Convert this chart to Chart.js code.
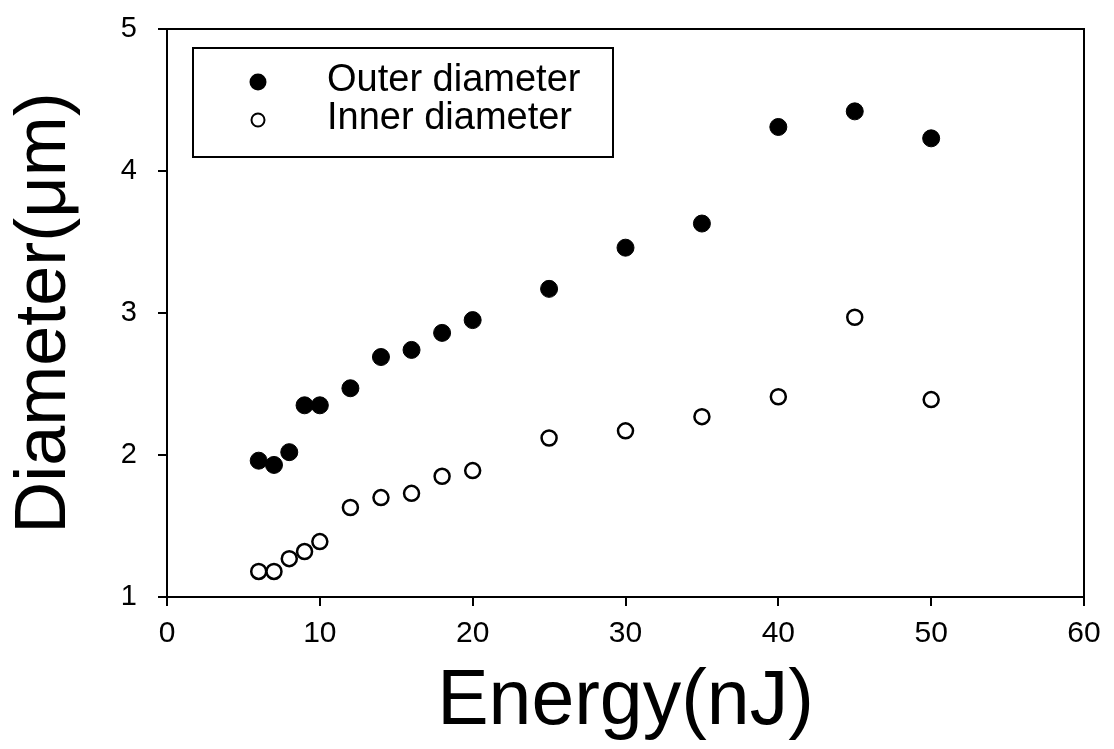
<!DOCTYPE html>
<html>
<head>
<meta charset="utf-8">
<script src="https://cdn.jsdelivr.net/npm/chart.js@4/dist/chart.umd.min.js"></script>
<style>
  html, body { margin: 0; padding: 0; background: #fff; }
  #wrap { width: 1114px; height: 749px; }
</style>
</head>
<body>
<div id="wrap"><canvas id="chart" width="1114" height="749"></canvas></div>
<script>
// Data
const energy = [6, 7, 8, 9, 10, 12, 14, 16, 18, 20, 25, 30, 35, 40, 45, 50];
const outerDiameter = [1.96, 1.93, 2.02, 2.35, 2.35, 2.47, 2.69, 2.74, 2.86, 2.95, 3.17, 3.46, 3.63, 4.31, 4.42, 4.23];
const innerDiameter = [1.18, 1.18, 1.27, 1.32, 1.39, 1.63, 1.70, 1.73, 1.85, 1.89, 2.12, 2.17, 2.27, 2.41, 2.97, 2.39];
const seriesNames = ['Outer diameter', 'Inner diameter'];
const xTicks = [0, 10, 20, 30, 40, 50, 60];
const yTicks = [1, 2, 3, 4, 5];

const FONT = '"Liberation Sans", Arial, Helvetica, sans-serif';

function toPoints(xs, ys) {
    return xs.map((x, i) => ({ x: x, y: ys[i] }));
}

// Box around the plot (top + right edges)
const frame = {
    id: 'frame',
    afterDraw(chart) {
        const { ctx, chartArea: a } = chart;
        ctx.save();
        ctx.strokeStyle = '#000';
        ctx.lineWidth = 2;
        ctx.beginPath();
        ctx.moveTo(a.left, a.top);
        ctx.lineTo(a.right, a.top);
        ctx.lineTo(a.right, a.bottom);
        ctx.stroke();
        ctx.restore();
    }
};

// Legend drawn inside the plot, upper left
const boxLegend = {
    id: 'boxLegend',
    afterDraw(chart) {
        const ctx = chart.ctx;
        const x0 = 193, y0 = 48, w = 420, h = 109;
        ctx.save();
        ctx.fillStyle = '#fff';
        ctx.fillRect(x0, y0, w, h);
        ctx.strokeStyle = '#000';
        ctx.lineWidth = 2;
        ctx.strokeRect(x0, y0, w, h);
        ctx.font = '38px ' + FONT;
        ctx.textBaseline = 'alphabetic';
        ctx.textAlign = 'left';
        chart.data.datasets.forEach((ds, i) => {
            const cy = 82 + i * 38;
            ctx.beginPath();
            ctx.arc(258, cy, i === 0 ? 8.5 : 6.5, 0, Math.PI * 2);
            if (i === 0) {
                ctx.fillStyle = '#000';
                ctx.fill();
            } else {
                ctx.lineWidth = 2;
                ctx.strokeStyle = '#000';
                ctx.stroke();
            }
            ctx.fillStyle = '#000';
            ctx.fillText(ds.label, 327, cy + 9);
        });
        ctx.restore();
    }
};

const ctx = document.getElementById('chart').getContext('2d');
new Chart(ctx, {
    type: 'scatter',
    data: {
        datasets: [
            {
                label: seriesNames[0],
                data: toPoints(energy, outerDiameter),
                pointRadius: 8.5,
                pointBackgroundColor: '#000',
                pointBorderColor: '#000',
                pointBorderWidth: 1
            },
            {
                label: seriesNames[1],
                data: toPoints(energy, innerDiameter),
                pointRadius: 7.5,
                pointBackgroundColor: '#fff',
                pointBorderColor: '#000',
                pointBorderWidth: 2.5
            }
        ]
    },
    options: {
        responsive: false,
        animation: false,
        layout: { padding: { top: 29, right: 30, left: 0, bottom: 0 } },
        plugins: {
            legend: { display: false },
            tooltip: { enabled: false }
        },
        scales: {
            x: {
                type: 'linear',
                min: xTicks[0],
                max: xTicks[xTicks.length - 1],
                afterBuildTicks: scale => { scale.ticks = xTicks.map(v => ({ value: v })); },
                afterFit: scale => {
                    scale.height = 152;
                    scale.paddingLeft = 0;
                    scale.paddingRight = 0;
                },
                grid: { drawOnChartArea: false, drawTicks: true, tickLength: 9, color: '#000', lineWidth: 2 },
                border: { display: true, color: '#000', width: 2 },
                ticks: { color: '#000', padding: 10, font: { family: FONT, size: 30 } },
                title: {
                    display: true,
                    text: 'Energy(nJ)',
                    color: '#000',
                    font: { family: FONT, size: 77 },
                    padding: { top: 0, bottom: 0 }
                }
            },
            y: {
                type: 'linear',
                min: yTicks[0],
                max: yTicks[yTicks.length - 1],
                afterBuildTicks: scale => { scale.ticks = yTicks.map(v => ({ value: v })); },
                afterFit: scale => {
                    scale.width = 167;
                    scale.paddingTop = 0;
                    scale.paddingBottom = 0;
                },
                grid: { drawOnChartArea: false, drawTicks: true, tickLength: 9, color: '#000', lineWidth: 2 },
                border: { display: true, color: '#000', width: 2 },
                ticks: { color: '#000', padding: 21, font: { family: FONT, size: 29 } },
                title: {
                    display: true,
                    text: 'Diameter(μm)',
                    color: '#000',
                    font: { family: FONT, size: 72 },
                    padding: { top: 2, bottom: 0 }
                }
            }
        }
    },
    plugins: [frame, boxLegend]
});
</script>
</body>
</html>
